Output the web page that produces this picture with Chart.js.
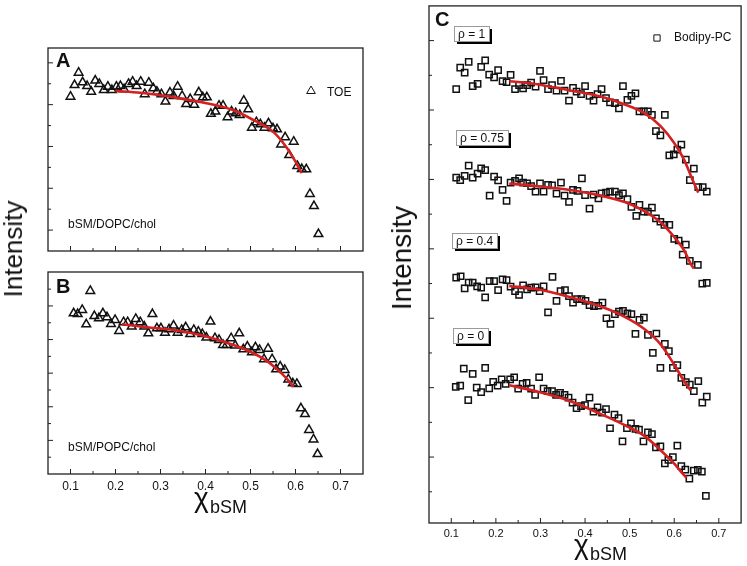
<!DOCTYPE html>
<html>
<head>
<meta charset="utf-8">
<script src="https://cdn.jsdelivr.net/npm/chart.js@4.4.1/dist/chart.umd.min.js"></script>
<style>
    body { margin: 0; background: #fff; }
    #wrap { position: relative; width: 747px; height: 566px; overflow: hidden; font-family: "Liberation Sans", Arial, sans-serif; color: #111; }
    canvas { position: absolute; }
    .t { position: absolute; white-space: nowrap; }
</style>
</head>
<body>
<div id="wrap">
    <canvas id="chartA" width="400" height="262" style="left:0;top:0"></canvas>
    <canvas id="chartB" width="400" height="304" style="left:0;top:262px"></canvas>
    <canvas id="chartC" width="347" height="566" style="left:400px;top:0"></canvas>

    <div class="t" style="left:13px;top:249px;font-size:26px;line-height:26px;transform:translate(-50%,-50%) rotate(-90deg)">Intensity</div>
    <div class="t" style="left:402px;top:258px;font-size:28px;line-height:28px;transform:translate(-50%,-50%) rotate(-90deg)">Intensity</div>

    <span class="t" style="left:194px;top:484px;font-size:28px;line-height:28px">χ</span>
    <span class="t" style="left:210px;top:498px;font-size:18px;line-height:18px">bSM</span>
    <span class="t" style="left:574px;top:531px;font-size:28px;line-height:28px">χ</span>
    <span class="t" style="left:590px;top:545px;font-size:18px;line-height:18px">bSM</span>
</div>

<script>
(function() {
    const FONT = '"Liberation Sans", Arial, sans-serif';
    const FIT_RED = '#d42020';

    // ── Data ──────────────────────────────────────────────────────────────────
    const xMajorTicks = [0.1, 0.2, 0.3, 0.4, 0.5, 0.6, 0.7];
    const xMinorTicks = [0.15, 0.25, 0.35, 0.45, 0.55, 0.65];

    // Panel A: TOE in bSM/DOPC/chol
    const toeDopcX = [0.100,0.109,0.118,0.127,0.137,0.146,0.155,0.164,0.174,0.183,0.192,0.202,0.211,0.219,0.229,0.238,0.247,0.256,0.265,0.274,0.284,0.292,0.302,0.311,0.321,0.329,0.338,0.348,0.357,0.366,0.375,0.385,0.394,0.403,0.412,0.422,0.430,0.439,0.449,0.458,0.467,0.476,0.485,0.495,0.503,0.513,0.522,0.531,0.540,0.550,0.559,0.568,0.577,0.586,0.596,0.604,0.614,0.624,0.632,0.641,0.651];
    const toeDopcY = [7.38,7.94,8.53,8.07,7.89,7.62,8.15,7.99,7.70,7.86,7.70,7.86,7.89,7.74,7.99,8.10,7.89,8.10,7.50,8.05,7.78,7.62,7.50,7.15,7.58,7.42,7.86,7.42,7.03,7.27,6.99,7.59,7.35,7.35,6.56,6.67,6.95,6.95,6.40,6.67,6.59,6.51,7.19,6.78,5.90,6.16,6.06,5.90,6.11,5.87,5.82,5.10,5.44,4.59,5.23,4.07,3.92,3.91,2.73,2.15,0.81];
    const fitDopcX = [0.200,0.255,0.329,0.402,0.461,0.506,0.550,0.579,0.598,0.614];
    const fitDopcY = [7.66,7.57,7.35,7.07,6.74,6.27,5.71,4.99,4.35,3.72];
    const yTicksA = [1, 2, 3, 4, 5, 6, 7, 8, 9];

    // Panel B: TOE in bSM/POPC/chol
    const toePopcX = [0.107,0.116,0.126,0.135,0.144,0.153,0.163,0.172,0.181,0.190,0.199,0.208,0.218,0.227,0.236,0.245,0.255,0.264,0.273,0.282,0.292,0.301,0.310,0.319,0.329,0.338,0.347,0.356,0.366,0.374,0.384,0.393,0.402,0.411,0.421,0.430,0.439,0.447,0.457,0.466,0.475,0.484,0.493,0.503,0.511,0.520,0.530,0.539,0.548,0.557,0.566,0.576,0.584,0.594,0.603,0.612,0.621,0.630,0.640,0.649];
    const toePopcY = [9.56,9.52,9.76,8.91,10.89,9.40,9.27,9.56,9.33,8.93,9.17,8.51,9.03,9.03,8.77,9.23,9.03,8.77,8.37,9.52,8.67,8.67,8.41,8.61,8.83,8.41,8.57,8.73,8.33,8.57,8.47,8.33,8.12,9.07,8.08,7.98,7.68,7.68,8.08,7.64,8.37,7.42,7.58,7.24,7.54,7.38,6.83,7.46,6.83,6.23,6.39,6.19,5.63,5.40,5.36,3.91,3.57,2.62,2.06,1.19];
    const fitPopcX = [0.214,0.270,0.329,0.388,0.439,0.491,0.535,0.565,0.583,0.596];
    const fitPopcY = [8.91,8.73,8.57,8.27,7.88,7.38,6.75,6.09,5.60,5.20];
    const yTicksB = [1, 2, 3, 4, 5, 6, 7, 8, 9, 10, 11];

    // Panel C: Bodipy-PC, four rho values (offset traces)
    const rho1X = [0.111,0.120,0.130,0.139,0.148,0.159,0.167,0.176,0.185,0.196,0.205,0.215,0.224,0.233,0.243,0.252,0.261,0.270,0.279,0.289,0.299,0.307,0.317,0.326,0.336,0.346,0.354,0.364,0.373,0.381,0.391,0.400,0.410,0.419,0.428,0.437,0.447,0.456,0.467,0.476,0.485,0.495,0.504,0.513,0.522,0.532,0.541,0.550,0.559,0.569,0.579,0.589,0.599,0.607,0.616,0.626,0.635,0.644,0.654,0.664,0.673];
    const rho1Y = [11.60,12.22,12.08,12.39,11.69,11.75,12.24,12.43,12.02,11.94,12.15,11.83,11.80,12.01,11.60,11.72,11.62,11.72,11.79,11.67,12.13,11.86,11.60,11.72,11.56,11.84,11.56,11.27,11.64,11.53,11.46,11.69,11.41,11.27,11.46,11.60,11.34,11.22,11.20,11.05,11.69,11.29,11.41,11.48,10.96,10.96,10.96,10.86,10.39,10.27,10.86,9.69,9.72,9.86,10.00,9.57,8.98,9.31,8.78,8.78,8.65];
    const fit1X = [0.230,0.289,0.363,0.437,0.489,0.533,0.570,0.600,0.622,0.641,0.654];
    const fit1Y = [11.83,11.75,11.57,11.38,11.16,10.91,10.53,10.05,9.57,8.99,8.62];

    const rho075X = [0.111,0.120,0.130,0.139,0.148,0.159,0.167,0.176,0.186,0.196,0.205,0.215,0.224,0.233,0.243,0.252,0.261,0.270,0.279,0.289,0.299,0.307,0.317,0.326,0.336,0.346,0.354,0.364,0.373,0.383,0.393,0.400,0.410,0.419,0.430,0.437,0.447,0.456,0.467,0.476,0.485,0.495,0.504,0.515,0.522,0.532,0.541,0.550,0.559,0.569,0.578,0.589,0.600,0.610,0.619,0.626,0.635,0.653,0.663,0.673];
    const rho075Y = [9.05,8.98,9.10,9.40,9.05,9.17,9.32,9.27,8.53,9.08,8.97,8.70,8.38,8.91,8.96,9.03,8.91,8.89,8.81,8.65,8.89,8.65,8.84,8.83,8.59,8.91,8.53,8.35,8.70,8.67,9.03,8.55,8.16,8.56,8.45,8.60,8.62,8.65,8.65,8.55,8.60,8.43,8.21,7.95,8.27,8.07,8.07,8.19,7.88,7.78,7.69,7.69,7.29,7.24,6.83,7.12,6.65,6.54,6.00,6.02];
    const fit075X = [0.230,0.289,0.363,0.437,0.489,0.533,0.570,0.600,0.622,0.637,0.644];
    const fit075Y = [8.88,8.81,8.70,8.53,8.35,8.09,7.76,7.34,6.96,6.57,6.43];

    const rho04X = [0.111,0.121,0.130,0.139,0.148,0.158,0.167,0.176,0.186,0.196,0.205,0.215,0.224,0.233,0.243,0.252,0.261,0.270,0.279,0.289,0.298,0.307,0.317,0.327,0.336,0.345,0.355,0.364,0.373,0.382,0.392,0.401,0.410,0.420,0.430,0.439,0.448,0.457,0.467,0.476,0.485,0.495,0.504,0.513,0.522,0.532,0.541,0.552,0.560,0.569,0.579,0.588,0.597,0.607,0.616,0.626,0.635,0.644,0.654,0.663,0.673];
    const rho04Y = [6.17,6.21,5.86,6.03,6.03,5.92,5.88,5.60,6.07,6.07,5.81,6.12,6.10,5.91,5.78,5.67,5.95,5.83,5.88,5.89,5.78,5.92,5.17,6.19,5.50,5.78,5.81,5.64,5.45,5.55,5.55,5.50,5.38,5.35,5.36,5.45,5.00,4.84,5.12,5.19,5.21,5.14,5.12,4.55,4.95,5.02,4.52,4.00,4.56,3.57,4.26,4.05,3.57,3.65,3.28,3.16,3.09,2.90,3.19,2.57,2.74];
    const fit04X = [0.230,0.289,0.363,0.437,0.489,0.533,0.570,0.600,0.622,0.637];
    const fit04Y = [5.93,5.84,5.62,5.33,5.04,4.69,4.24,3.66,3.19,2.92];

    const rho0X = [0.110,0.120,0.128,0.138,0.148,0.157,0.167,0.176,0.185,0.194,0.204,0.213,0.222,0.232,0.241,0.250,0.260,0.269,0.279,0.288,0.297,0.307,0.316,0.326,0.335,0.344,0.354,0.363,0.372,0.381,0.391,0.400,0.410,0.419,0.428,0.438,0.447,0.456,0.466,0.475,0.484,0.494,0.503,0.513,0.521,0.531,0.541,0.550,0.559,0.569,0.579,0.587,0.597,0.607,0.616,0.625,0.634,0.644,0.653,0.662,0.671];
    const rho0Y = [3.02,3.06,3.55,2.64,3.40,3.00,2.87,3.57,2.98,3.17,3.06,3.24,3.11,3.24,3.30,2.97,3.11,3.14,2.97,2.79,3.30,2.97,2.90,2.90,2.79,2.85,2.79,2.71,2.57,2.41,2.47,2.50,2.71,2.31,2.43,2.28,2.38,1.83,2.22,2.12,1.45,1.83,1.97,1.81,1.79,1.45,1.71,1.66,1.28,1.31,0.82,0.92,1.00,1.33,0.74,0.64,0.38,0.61,0.63,0.58,-0.12];
    const fit0X = [0.230,0.289,0.363,0.437,0.489,0.533,0.570,0.600,0.619,0.628];
    const fit0Y = [3.07,2.90,2.63,2.23,1.92,1.61,1.19,0.81,0.52,0.40];

    const yTicksC = [0, 1, 2, 3, 4, 5, 6, 7, 8, 9, 10, 11, 12, 13];

    // ── Helpers ───────────────────────────────────────────────────────────────
    const pairs = (xs, ys) => xs.map((x, i) => ({ x: x, y: ys[i] }));

    function markerSet(label, xs, ys, style, radius) {
        return {
            label: label,
            data: pairs(xs, ys),
            pointStyle: style,
            pointRadius: radius,
            pointBorderColor: '#111',
            pointBackgroundColor: 'rgba(255,255,255,0)',
            pointBorderWidth: 1.5,
            showLine: false,
            order: 1
        };
    }

    function fitSet(xs, ys) {
        return {
            data: pairs(xs, ys),
            showLine: true,
            borderColor: FIT_RED,
            borderWidth: 2.6,
            pointRadius: 0,
            cubicInterpolationMode: 'monotone',
            fill: false,
            order: 0
        };
    }

    function drawTag(ctx, text, left, top) {
        ctx.font = '12px ' + FONT;
        const w = Math.round(ctx.measureText(text).width) + 8, h = 15;
        ctx.fillStyle = '#000';
        ctx.fillRect(left + 3, top + 3, w, h);
        ctx.fillStyle = '#fff';
        ctx.fillRect(left, top, w, h);
        ctx.strokeStyle = '#9a9a9a';
        ctx.lineWidth = 1;
        ctx.strokeRect(left + 0.5, top + 0.5, w, h);
        ctx.fillStyle = '#111';
        ctx.textAlign = 'left';
        ctx.textBaseline = 'alphabetic';
        ctx.fillText(text, left + 4, top + 12);
    }

    // ── Frame plugin: box, inward ticks, labels, notes ───────────────────────
    const framePlugin = {
        id: 'frame',
        afterDatasetsDraw(chart, args, o) {
            const { ctx, chartArea: a, scales } = chart;
            const sx = scales.x, sy = scales.y;
            ctx.save();

            ctx.strokeStyle = '#222';
            ctx.lineWidth = 1.3;
            ctx.strokeRect(a.left, a.top, a.right - a.left, a.bottom - a.top);

            ctx.lineWidth = 1;
            ctx.beginPath();
            xMajorTicks.forEach(v => { const p = sx.getPixelForValue(v); ctx.moveTo(p, a.bottom); ctx.lineTo(p, a.bottom - 5); });
            xMinorTicks.forEach(v => { const p = sx.getPixelForValue(v); ctx.moveTo(p, a.bottom); ctx.lineTo(p, a.bottom - 3); });
            o.yTicks.forEach(v => {
                const p = sy.getPixelForValue(v);
                const len = (v % 2 === o.yMajorRem) ? 5 : 3;
                ctx.moveTo(a.left, p); ctx.lineTo(a.left + len, p);
            });
            ctx.stroke();

            if (o.tickLabels) {
                ctx.fillStyle = '#111';
                ctx.font = o.tickLabels.size + 'px ' + FONT;
                ctx.textAlign = 'center';
                ctx.textBaseline = 'alphabetic';
                xMajorTicks.forEach(v => ctx.fillText(v.toFixed(1), sx.getPixelForValue(v), a.bottom + o.tickLabels.offset));
            }

            // panel letter
            ctx.fillStyle = '#111';
            ctx.font = 'bold 20px ' + FONT;
            ctx.textAlign = 'left';
            ctx.fillText(o.letter.text, o.letter.x, o.letter.y);

            // sample note
            if (o.note) {
                ctx.font = '12px ' + FONT;
                ctx.fillText(o.note.text, o.note.x, o.note.y);
            }

            // legend entry, marker taken from the first labelled dataset
            if (o.legend) {
                const ds = chart.data.datasets.find(d => d.label);
                ctx.strokeStyle = '#111';
                ctx.fillStyle = 'rgba(255,255,255,0)';
                Chart.helpers.drawPoint(ctx, { pointStyle: ds.pointStyle, rotation: 0, radius: ds.pointRadius, borderWidth: 1.5 }, o.legend.mx, o.legend.my);
                ctx.fillStyle = '#111';
                ctx.font = '12px ' + FONT;
                ctx.fillText(o.legend.text, o.legend.tx, o.legend.ty);
            }

            (o.tags || []).forEach(t => drawTag(ctx, t.text, t.x, t.y));

            ctx.restore();
        }
    };

    function makePanel(id, datasets, padding, yMin, yMax, frame) {
        return new Chart(document.getElementById(id), {
            type: 'scatter',
            data: { datasets: datasets },
            options: {
                responsive: false,
                animation: false,
                events: [],
                layout: { padding: padding },
                scales: {
                    x: { type: 'linear', min: 0.05, max: 0.75, display: false },
                    y: { type: 'linear', min: yMin, max: yMax, display: false }
                },
                plugins: {
                    legend: { display: false },
                    tooltip: { enabled: false },
                    frame: frame
                }
            },
            plugins: [framePlugin]
        });
    }

    // ── Build the three panels ───────────────────────────────────────────────
    makePanel('chartA',
        [fitSet(fitDopcX, fitDopcY), markerSet('TOE', toeDopcX, toeDopcY, 'triangle', 5)],
        { left: 48, top: 48, right: 37, bottom: 11 }, 0, 9.71,
        {
            yTicks: yTicksA, yMajorRem: 1,
            letter: { text: 'A', x: 56, y: 67 },
            note: { text: 'bSM/DOPC/chol', x: 68, y: 228 },
            legend: { text: 'TOE', mx: 311, my: 91, tx: 327, ty: 96 }
        });

    makePanel('chartB',
        [fitSet(fitPopcX, fitPopcY), markerSet('TOE', toePopcX, toePopcY, 'triangle', 5)],
        { left: 48, top: 10, right: 37, bottom: 92 }, 0, 12.02,
        {
            yTicks: yTicksB, yMajorRem: 0,
            tickLabels: { size: 12, offset: 15.5 },
            letter: { text: 'B', x: 56, y: 31 },
            note: { text: 'bSM/POPC/chol', x: 68, y: 189 }
        });

    makePanel('chartC',
        [
            fitSet(fit1X, fit1Y), fitSet(fit075X, fit075Y), fitSet(fit04X, fit04Y), fitSet(fit0X, fit0Y),
            markerSet('Bodipy-PC', rho1X, rho1Y, 'rect', 4.4),
            markerSet('', rho075X, rho075Y, 'rect', 4.4),
            markerSet('', rho04X, rho04Y, 'rect', 4.4),
            markerSet('', rho0X, rho0Y, 'rect', 4.4)
        ],
        { left: 29, top: 2, right: 2, bottom: 43 }, -0.9, 14.0,
        {
            yTicks: yTicksC, yMajorRem: 1,
            tickLabels: { size: 11, offset: 14 },
            letter: { text: 'C', x: 35, y: 26 },
            legend: { text: 'Bodipy-PC', mx: 257, my: 38, tx: 274, ty: 41 },
            tags: [
                { text: 'ρ = 1', x: 54, y: 26 },
                { text: 'ρ = 0.75', x: 56, y: 130 },
                { text: 'ρ = 0.4', x: 52, y: 233 },
                { text: 'ρ = 0', x: 53, y: 328 }
            ]
        });
})();
</script>
</body>
</html>
